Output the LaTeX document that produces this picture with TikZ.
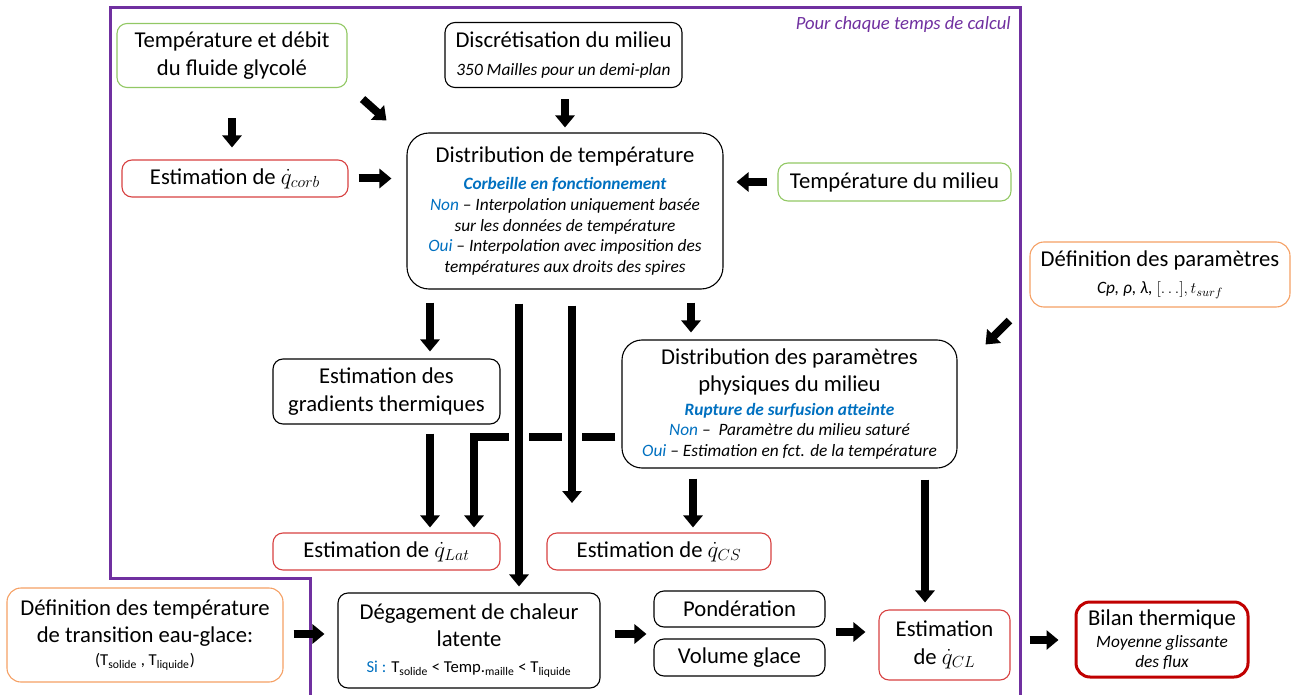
\documentclass[tikz,border=0pt]{standalone}
\usepackage{fontspec}
\setmainfont{Carlito}
\usetikzlibrary{arrows.meta,calc}
\newdimen\pxu \pxu=0.75pt
\definecolor{gbord}{RGB}{146,200,100}
\definecolor{rbord}{RGB}{215,65,65}
\definecolor{obord}{RGB}{245,160,100}
\definecolor{pframe}{RGB}{112,48,160}
\definecolor{btxt}{RGB}{0,112,192}
\definecolor{dred}{RGB}{192,0,0}
\newcommand\tfont{\fontsize{17}{20.5}\selectfont}
\newcommand\sbfont{\fontsize{13}{15}\selectfont}
\newcommand\ptfont{\fontsize{14}{16}\selectfont}
\newcommand\xsfont{\fontsize{12.5}{14}\selectfont}
\newcommand\bl[1]{\textcolor{btxt}{#1}}
\begin{document}
\begin{tikzpicture}[x=0.75pt,y=-0.75pt,
  box/.style={draw=black, line width=1.1\pxu, rounded corners=10\pxu, align=center, inner sep=0pt, font=\tfont},
  gb/.style={box, draw=gbord},
  rb/.style={box, draw=rbord},
  ob/.style={box, draw=obord, rounded corners=14\pxu},
  fat/.style={line width=6pt, -{Triangle[width=14.25pt,length=9pt]}},
  gap/.style={preaction={draw=white, line width=15pt, arrows=-}}]
\useasboundingbox (0,0) rectangle (1291,695);
% frame
\draw[pframe, line width=3\pxu] (310,695) -- (310,578) -- (110,578) -- (110,8) -- (1020,8) -- (1020,695);
\node[font=\ptfont\itshape, text=pframe, anchor=east, inner sep=0pt] (ptitle) at (1011,25) {Pour chaque temps de calcul};
% nodes
\node[gb, minimum width=230\pxu, minimum height=64\pxu] (tdeb) at (232,55.5) {Température et débit\\du fluide glycolé};
\node[box, minimum width=237\pxu, minimum height=65\pxu] (disc) at (563.5,55) {Discrétisation du milieu\\{\sbfont\itshape 350 Mailles pour un demi-plan}};
\node[rb, minimum width=226\pxu, minimum height=37\pxu] (qcorb) at (235,178.5) {Estimation de $\dot{q}_{corb}$};
\node[box, rounded corners=22\pxu, minimum width=316\pxu, minimum height=156\pxu] (dtemp) at (565,211)
 {Distribution de température\\[0pt]
  {\sbfont\bfseries\itshape\color{btxt}Corbeille en fonctionnement}\\[-5pt]
  {\sbfont\itshape\bl{Non} – Interpolation uniquement basée}\\[-5pt]
  {\sbfont\itshape sur les données de température}\\[-5pt]
  {\sbfont\itshape\bl{Oui} – Interpolation avec imposition des}\\[-5pt]
  {\sbfont\itshape températures aux droits des spires}};
\node[gb, minimum width=233\pxu, minimum height=38\pxu] (tmil) at (894.5,182) {Température du milieu};
\node[ob, minimum width=260\pxu, minimum height=65\pxu] (defpar) at (1160,274.5) {Définition des paramètres\\{\sbfont\itshape Cp, ρ, λ, $[\dots],t_{surf}$}};
\node[box, minimum width=227\pxu, minimum height=65\pxu] (grad) at (386.5,391.5) {Estimation des\\gradients thermiques};
\node[box, rounded corners=20\pxu, minimum width=335\pxu, minimum height=128\pxu] (dpar) at (789.5,404)
 {Distribution des paramètres\\physiques du milieu\\[-3pt]
  {\sbfont\bfseries\itshape\color{btxt}Rupture de surfusion atteinte}\\[-5pt]
  {\sbfont\itshape\bl{Non} –\ \ Paramètre du milieu saturé}\\[-5pt]
  {\sbfont\itshape\bl{Oui} – Estimation en fct. de la température}};
\node[rb, minimum width=227\pxu, minimum height=37\pxu] (qlat) at (386.5,551.5) {Estimation de $\dot{q}_{Lat}$};
\node[rb, minimum width=224\pxu, minimum height=37\pxu] (qcs) at (659,551.5) {Estimation de $\dot{q}_{CS}$};
\node[ob, minimum width=276\pxu, minimum height=94\pxu] (deftr) at (145,635)
 {Définition des température\\de transition eau-glace:\\[-3pt]{\xsfont (T\textsubscript{solide} , T\textsubscript{liquide})}};
\node[box, minimum width=262\pxu, minimum height=95\pxu] (deg) at (469,640.5)
 {Dégagement de chaleur\\latente\\[-1pt]{\xsfont\bl{Si :} T\textsubscript{solide} < Temp.\textsubscript{maille} < T\textsubscript{liquide}}};
\node[box, minimum width=171\pxu, minimum height=36\pxu] (pond) at (739.5,609) {Pondération};
\node[box, minimum width=171\pxu, minimum height=37\pxu] (vol) at (739.5,657.5) {Volume glace};
\node[rb, minimum width=131\pxu, minimum height=70\pxu] (qcl) at (944.5,645) {Estimation\\de $\dot{q}_{CL}$};
\node[box, draw=dred, line width=3\pxu, rounded corners=14\pxu, minimum width=172\pxu, minimum height=75\pxu] (bilan) at (1162,639.5)
 {Bilan thermique\\[-4pt]{\sbfont\itshape Moyenne glissante}\\[-5pt]{\sbfont\itshape des flux}};
% reference columns / rows
\coordinate (xA) at (232,0);
\coordinate (xB) at (565,0);
\coordinate (xC) at (430,0);
\coordinate (xD) at (691,0);
\coordinate (xE) at (519,0);
\coordinate (xF) at (572,0);
\coordinate (xG) at (474,0);
\coordinate (xH) at (693,0);
\coordinate (xI) at (925,0);
\coordinate (yB) at (0,437);
\coordinate (yR1) at (0,634);
\coordinate (yR2) at (0,632);
\coordinate (yR3) at (0,640);
\coordinate (vF) at (572,503);
% arrows
\draw[fat, shorten <=22.5pt, shorten >=9pt] (tdeb.south -| xA) -- (qcorb.north -| xA);
\draw[fat, shorten <=8.25pt, shorten >=3.75pt] (disc.south -| xB) -- (dtemp.north -| xB);
\draw[fat] ($(tdeb.south east)+(15,11)$) -- ($(dtemp.north west)+(-20,-12)$);
\draw[fat, shorten <=7.5pt, shorten >=11.25pt] (qcorb.east) -- (qcorb.east -| dtemp.west);
\draw[fat, shorten <=7.5pt, shorten >=9.75pt] (tmil.west) -- (tmil.west -| dtemp.east);
\draw[fat] ($(defpar.south west)+(-20,13)$) -- ($(dpar.north east)+(28,5)$);
\draw[fat, shorten <=9.75pt, shorten >=5.25pt] (dtemp.south -| xC) -- (grad.north -| xC);
\draw[fat, shorten <=9.75pt, shorten >=5.25pt] (dtemp.south -| xD) -- (dpar.north -| xD);
\draw[fat, shorten <=6.75pt, shorten >=3.75pt] (grad.south -| xC) -- (qlat.north -| xC);
\draw[fat, shorten <=4.5pt, shorten >=3.75pt] (dpar.west |- yB) -| (qlat.north -| xG);
\draw[fat, gap, shorten <=10.5pt, shorten >=4.5pt] (dtemp.south -| xE) -- (deg.north -| xE);
\draw[fat, gap, shorten <=12pt] (dtemp.south -| xF) -- (vF);
\draw[fat, shorten <=7.5pt, shorten >=3.75pt] (dpar.south -| xH) -- (qcs.north -| xH);
\draw[fat, shorten <=8.25pt, shorten >=5.25pt] (dpar.south -| xI) -- (qcl.north -| xI);
\draw[fat, shorten <=7.5pt, shorten >=9.75pt] (deftr.east |- yR1) -- (deg.west |- yR1);
\draw[fat, shorten <=10.5pt, shorten >=5.25pt] (deg.east |- yR1) -- (pond.west |- yR1);
\draw[fat, shorten <=7.5pt, shorten >=9.75pt] (pond.east |- yR2) -- (qcl.west |- yR2);
\draw[fat, shorten <=14.25pt, shorten >=12pt] (qcl.east |- yR3) -- (bilan.west |- yR3);
\end{tikzpicture}
\end{document}
